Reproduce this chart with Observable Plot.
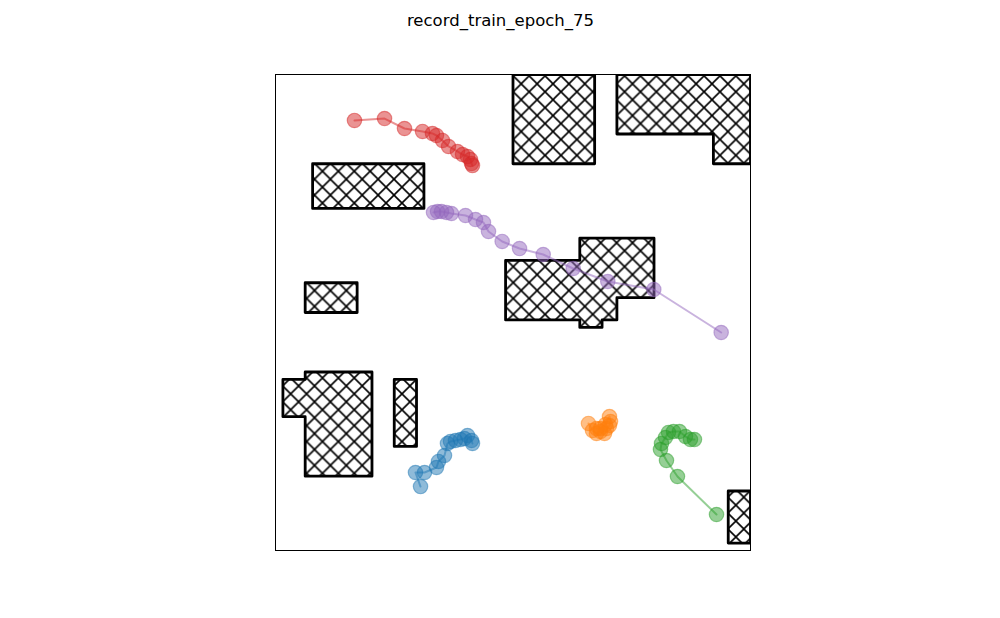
<!DOCTYPE html>
<html>
<head>
<meta charset="utf-8">
<script src="https://cdn.jsdelivr.net/npm/d3@7"></script>
<script src="https://cdn.jsdelivr.net/npm/@observablehq/plot@0.6"></script>
<style>
  html, body { margin: 0; padding: 0; background: #fff; }
  #chart { width: 1000px; height: 618px; }
</style>
</head>
<body>
<div id="chart"></div>
<script>
// ---- Data (grid units, 64 x 64 world, y measured from the top) ----
const titleText = "record_train_epoch_75";

// obstacle polygons: list of [x, y] vertices
const obstacleTopMiddle = [[32,0],[43,0],[43,12],[32,12]];
const obstacleTopRight = [[46,0],[64,0],[64,12],[59,12],[59,8],[46,8]];
const obstacleLeftWide = [[5,12],[20,12],[20,18],[5,18]];
const obstacleSmall = [[4,28],[11,28],[11,32],[4,32]];
const obstacleCenter = [[31,25],[41,25],[41,22],[51,22],[51,30],[46,30],[46,33],[44,33],[44,34],[41,34],[41,33],[31,33]];
const obstacleBottomLeft = [[4,40],[13,40],[13,54],[4,54],[4,46],[1,46],[1,41],[4,41]];
const obstacleThin = [[16,41],[19,41],[19,50],[16,50]];
const obstacleBottomRight = [[61,56],[64,56],[64,63],[61,63]];
const obstacles = [obstacleTopMiddle, obstacleTopRight, obstacleLeftWide, obstacleSmall,
                   obstacleCenter, obstacleBottomLeft, obstacleThin, obstacleBottomRight];

// agent trajectories
const agentNames = ["agent 0", "agent 1", "agent 2", "agent 3", "agent 4"];
const agentColors = ["#1f77b4", "#ff7f0e", "#2ca02c", "#d62728", "#9467bd"];

const blueX = [19.54, 18.86, 20.08, 21.69, 21.96, 22.77, 23.17, 23.58, 24.25, 24.93, 25.46, 25.87, 26.41, 26.54];
const blueY = [55.40, 53.51, 53.51, 52.84, 52.03, 51.23, 49.61, 49.34, 49.21, 49.08, 48.94, 48.54, 49.21, 49.61];

const orangeX = [42.17, 42.71, 43.25, 43.79, 44.33, 44.60, 45.00, 45.14, 45.00, 44.46, 43.79, 43.25];
const orangeY = [46.92, 47.87, 48.27, 48.00, 48.27, 47.60, 47.19, 46.66, 45.99, 47.06, 47.60, 47.60];

const greenX = [59.42, 54.16, 52.68, 51.87, 52.01, 52.55, 52.95, 53.62, 54.43, 55.24, 55.91, 56.45];
const greenY = [59.16, 54.05, 51.90, 50.42, 49.61, 48.81, 48.13, 48.00, 48.00, 48.67, 49.08, 49.08];

const redX = [10.64, 14.69, 17.38, 19.81, 21.15, 21.69, 22.50, 23.31, 24.52, 25.20, 25.87, 26.27, 26.41, 26.54];
const redY = [6.18, 5.92, 7.26, 7.66, 7.93, 8.20, 8.87, 9.68, 10.35, 10.76, 11.03, 11.43, 11.97, 12.24];

const purpleX = [60.05, 50.97, 44.77, 40.11, 36.07, 32.88, 30.54, 28.70, 28.02, 26.95, 25.60, 23.71, 23.04, 22.37, 21.83, 21.29];
const purpleY = [34.69, 28.91, 27.83, 26.08, 24.20, 23.40, 22.45, 21.11, 19.90, 19.50, 18.96, 18.69, 18.55, 18.42, 18.42, 18.55];

const agentXs = [blueX, orangeX, greenX, redX, purpleX];
const agentYs = [blueY, orangeY, greenY, redY, purpleY];

// ---- Build tables ----
const obstacleRows = [];
obstacles.forEach((poly, i) => {
  poly.concat([poly[0]]).forEach(([x, y]) => obstacleRows.push({id: i, x, y}));
});

const trajRows = [];
agentNames.forEach((name, i) => {
  agentXs[i].forEach((x, k) => trajRows.push({agent: name, x, y: agentYs[i][k]}));
});

const hatchSize = 15.9;

const chart = Plot.plot({
  width: 1000,
  height: 618,
  marginLeft: 275,
  marginRight: 250,
  marginTop: 74,
  marginBottom: 68,
  style: {fontFamily: "DejaVu Sans, sans-serif", background: "white"},
  x: {domain: [0, 64], axis: null},
  y: {domain: [0, 64], reverse: true, axis: null},
  color: {type: "ordinal", domain: agentNames, range: agentColors},
  marks: [
    Plot.line(obstacleRows, {
      x: "x", y: "y", z: "id",
      fill: "url(#hatchX)", stroke: "black", strokeWidth: 2.8,
      strokeLinejoin: "round", clip: true
    }),
    Plot.line(trajRows, {
      x: "x", y: "y", z: "agent", stroke: "agent",
      strokeWidth: 2, strokeOpacity: 0.5
    }),
    Plot.dot(trajRows, {
      x: "x", y: "y", fill: "agent", fillOpacity: 0.5, r: 7.2,
      stroke: "agent", strokeOpacity: 0.5, strokeWidth: 1.2
    }),
    Plot.frame({stroke: "black", strokeWidth: 1}),
    Plot.text([titleText], {
      frameAnchor: "top-left", dx: 225, dy: -54,
      text: d => d, textAnchor: "middle", lineAnchor: "middle",
      fontSize: 16.5, fill: "black"
    })
  ]
});

// hatch pattern definition
const ns = "http://www.w3.org/2000/svg";
const defs = document.createElementNS(ns, "defs");
const pat = document.createElementNS(ns, "pattern");
pat.setAttribute("id", "hatchX");
pat.setAttribute("patternUnits", "userSpaceOnUse");
pat.setAttribute("width", hatchSize);
pat.setAttribute("height", hatchSize);
pat.setAttribute("x", (520.7 % hatchSize).toFixed(2));
pat.setAttribute("y", (83.3 % hatchSize).toFixed(2));
const bg = document.createElementNS(ns, "rect");
bg.setAttribute("width", hatchSize);
bg.setAttribute("height", hatchSize);
bg.setAttribute("fill", "white");
pat.appendChild(bg);
const p = document.createElementNS(ns, "path");
const s = hatchSize;
p.setAttribute("d", `M${-1},${-1}L${s+1},${s+1}M${-1},${s+1}L${s+1},${-1}`);
p.setAttribute("stroke", "black");
p.setAttribute("stroke-width", "1.6");
p.setAttribute("fill", "none");
pat.appendChild(p);
defs.appendChild(pat);
chart.insertBefore(defs, chart.firstChild);

document.getElementById("chart").appendChild(chart);
</script>
</body>
</html>
